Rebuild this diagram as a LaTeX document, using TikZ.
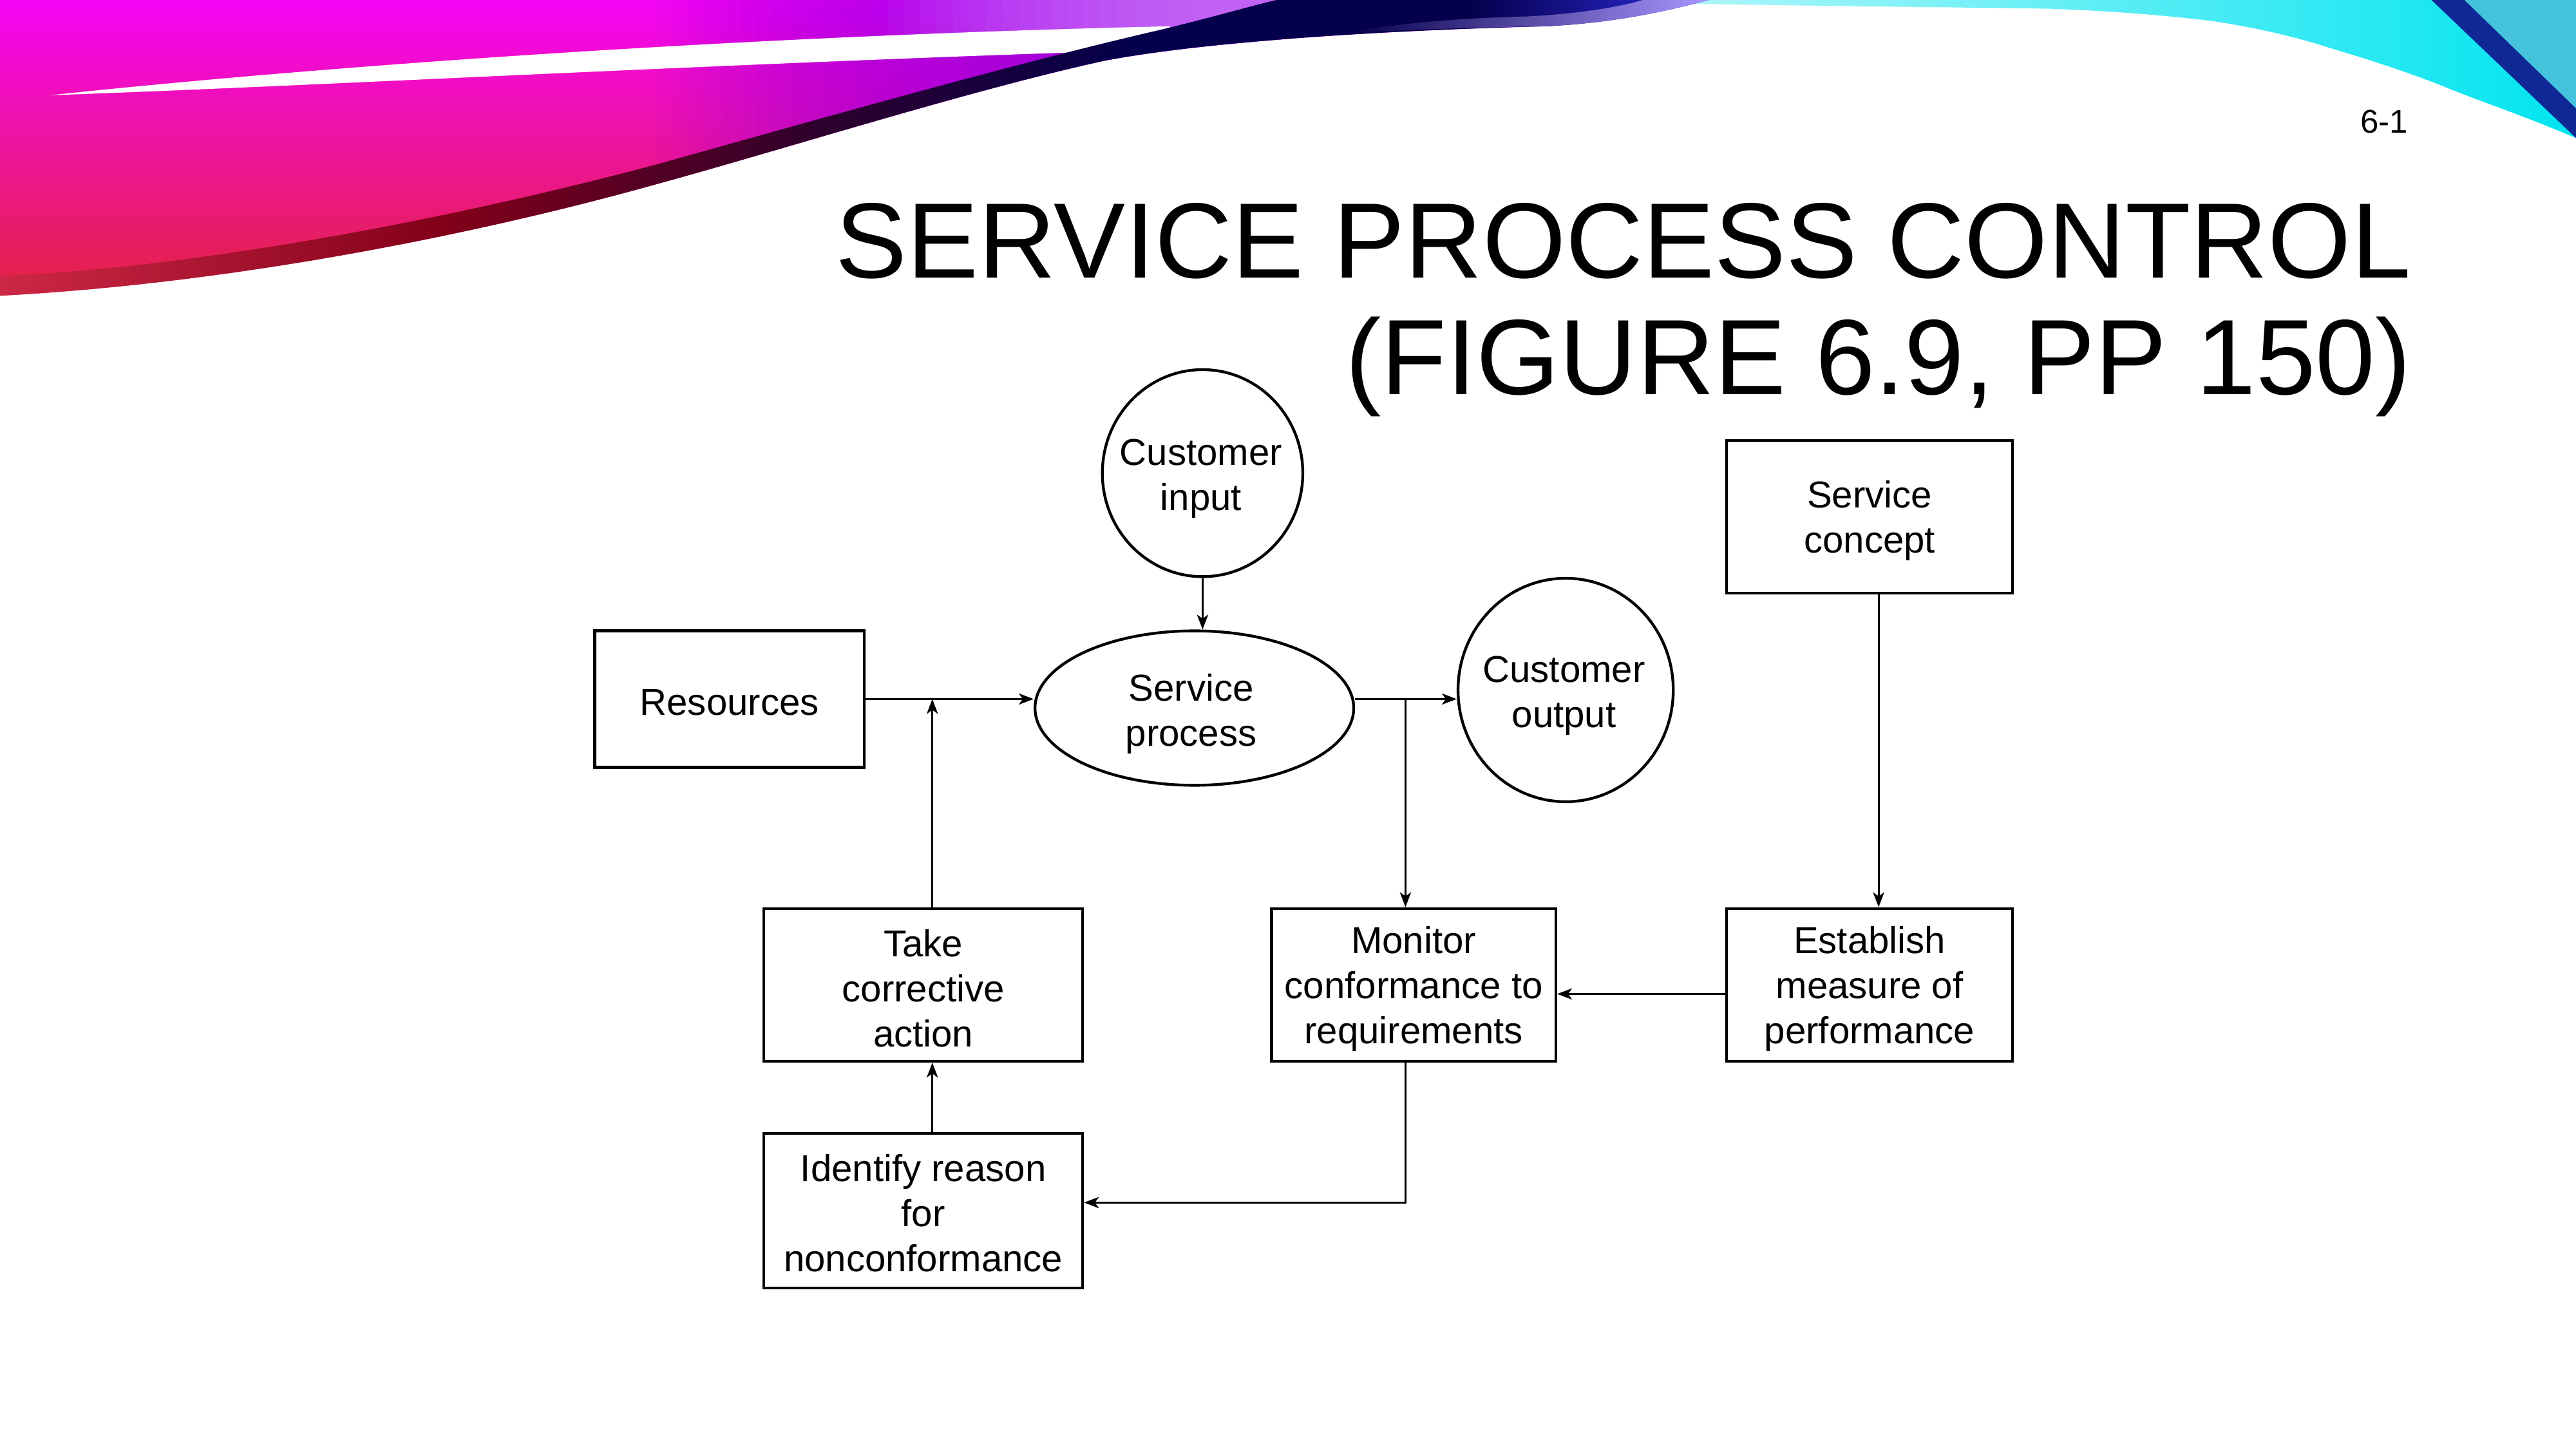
\documentclass[tikz,border=0pt]{standalone}
\usepackage{fontspec}
\setmainfont{Liberation Sans}
\usetikzlibrary{arrows.meta,shapes.geometric,calc}
\definecolor{magtop}{RGB}{245,5,245}
\definecolor{pinkmid}{RGB}{252,10,150}
\definecolor{redbot}{RGB}{228,35,65}
\definecolor{bandleft}{RGB}{205,40,70}
\definecolor{bandmid}{RGB}{130,0,25}
\definecolor{navyleft}{RGB}{45,0,45}
\definecolor{navymid}{RGB}{5,0,75}
\definecolor{navyright}{RGB}{45,45,225}
\definecolor{lightpurple}{RGB}{205,120,255}
\definecolor{lightblob}{RGB}{170,150,255}
\definecolor{deeppurple}{RGB}{150,0,235}
\definecolor{cyanlight}{RGB}{215,250,252}
\definecolor{cyanfull}{RGB}{0,228,240}
\definecolor{stripeblue}{RGB}{15,40,150}
\definecolor{tealr}{RGB}{70,195,220}
\pgfdeclarehorizontalshading{edgeband}{100bp}{color(0bp)=(bandleft); color(25bp)=(bandleft); color(38bp)=(bandmid); color(49bp)=(navyleft); color(58bp)=(navymid); color(68bp)=(navymid); color(75bp)=(navyright); color(100bp)=(navyright)}
\newcommand\dfont{\fontsize{11.4pt}{13.75pt}\selectfont}
\newcommand\tfont{\fontsize{32.6pt}{35.5pt}\selectfont}
\begin{document}
\begin{tikzpicture}[x=0.5pt,y=-0.5pt,
  box/.style={draw, line width=0.85pt, inner sep=0pt},
  oval/.style={draw, ellipse, line width=0.85pt, inner sep=0pt},
  lbl/.style={align=center, font=\dfont, inner sep=0pt},
  conn/.style={line width=0.6pt, -{Stealth[length=4.5pt,width=3.4pt,inset=1.2pt]}}]
\useasboundingbox (0,0) rectangle (1568,882);
\fill[white] (0,0) rectangle (1568,882);
% --- decorative swoosh, right (cyan) ---
\shade[left color=cyanlight, right color=cyanfull]
  (900,0) -- (1568,0) -- (1568,84) .. controls (1530,68) and (1510,62) .. (1486,52)
  .. controls (1450,38) and (1420,30) .. (1408,26)
  .. controls (1380,18) and (1360,15) .. (1348,13)
  .. controls (1300,7) and (1250,5) .. (1227,5)
  .. controls (1150,4) and (1050,3) .. (900,0) -- cycle;
\fill[tealr] (1500,0) -- (1568,0) -- (1568,66) -- cycle;
\fill[stripeblue] (1480,0) -- (1500,0) -- (1568,66) -- (1568,84) -- cycle;
% --- decorative swoosh, left (magenta) ---
\def\mainpath{(0,0) -- (1040,0) .. controls (1010,8) and (980,14) .. (941,16)
  .. controls (860,18) and (740,24) .. (672,37)
  .. controls (590,55) and (480,90) .. (400,112)
  .. controls (300,140) and (150,172) .. (0,180) -- cycle}
\shade[top color=magtop, middle color=pinkmid, bottom color=redbot] \mainpath;
\begin{scope}
  \clip \mainpath;
  \foreach \i in {0,...,29} {
    \fill[deeppurple, opacity=0.055] ({400+10*\i},0) rectangle (780,140);
  }
\end{scope}
\begin{scope}
  \clip (540,0) -- (777,0) -- (712,18) .. controls (660,19) and (600,21) .. (540,24) -- cycle;
  \foreach \i in {0,...,19} {
    \fill[lightpurple, opacity=0.09] ({540+10*\i},0) rectangle (780,30);
  }
\end{scope}
\fill[white] (30,58) .. controls (200,40) and (450,22) .. (712,16)
  -- (712,30) .. controls (450,38) and (200,52) .. (30,58) -- cycle;
% dark edge band: red - maroon - navy - blue
\shade[shading=edgeband]
  (0,180) .. controls (150,172) and (300,140) .. (400,112)
  .. controls (480,90) and (590,55) .. (672,37)
  .. controls (740,24) and (860,18) .. (941,16)
  .. controls (980,14) and (1010,8) .. (1040,0)
  -- (777,0)
  .. controls (760,4) and (740,10) .. (707,18)
  .. controls (620,38) and (500,72) .. (400,100)
  .. controls (250,140) and (100,164) .. (0,168) -- cycle;
\shade[left color=navymid, right color=lightblob]
  (820,20) .. controls (870,17.5) and (910,16.5) .. (941,16)
  .. controls (980,14) and (1010,8) .. (1040,0) -- (1000,0)
  .. controls (980,6) and (950,9) .. (930,10)
  .. controls (890,11) and (850,14) .. (820,20) -- cycle;
% --- titles ---
\node[anchor=base east, inner sep=0pt, font=\fontsize{10pt}{12pt}\selectfont] (pg) at (1466,81) {6-1};
\node[anchor=base east, inner sep=0pt, font=\tfont] (t1) at (1468,169) {SERVICE PROCESS CONTROL};
\node[anchor=base east, inner sep=0pt, font=\tfont] (t2) at (1468,240) {(FIGURE 6.9, PP 150)};
% --- diagram nodes ---
\node[oval, minimum width=61pt, minimum height=63pt] (ci) at (732,288) {};
\node[oval, minimum width=97pt, minimum height=47pt] (sp) at (727,431) {};
\node[oval, minimum width=65.5pt, minimum height=68pt] (co) at (953,420) {};
\node[box, minimum width=82pt, minimum height=41.5pt] (res) at (444,425.5) {};
\node[box, minimum width=87pt, minimum height=46.5pt] (sc) at (1138,314.5) {};
\node[box, minimum width=97pt, minimum height=46.5pt] (tca) at (562,599.5) {};
\node[box, minimum width=86.5pt, minimum height=46.5pt] (mon) at (860.5,599.5) {};
\node[box, minimum width=87pt, minimum height=46.5pt] (est) at (1138,599.5) {};
\node[box, minimum width=97pt, minimum height=47pt] (idr) at (562,737) {};
% --- labels ---
\node[lbl] (ciT) at ($(ci)+(-1,3.5)$) {Customer\\input};
\node[lbl] (spT) at ($(sp)+(-2,3.5)$) {Service\\process};
\node[lbl] (coT) at ($(co)+(-1,3.5)$) {Customer\\output};
\node[lbl] (resT) at ($(res)+(0,2)$) {Resources};
\node[lbl] (scT) at ($(sc)+(0,2.5)$) {Service\\concept};
\node[lbl] (tcaT) at ($(tca)+(0,2)$) {Take\\corrective\\action};
\node[lbl] (monT) at ($(mon)+(0,2.5)$) {Monitor\\conformance to\\requirements};
\node[lbl] (estT) at ($(est)+(0,2.5)$) {Establish\\measure of\\performance};
\node[lbl] (idrT) at ($(idr)+(0,1.5)$) {Identify reason\\for\\nonconformance};
% --- connector points ---
\coordinate (tcaN) at ($(tca.north)+(5.5,0)$);
\coordinate (tcaS) at ($(tca.south)+(5.5,0)$);
\coordinate (idrN) at ($(idr.north)+(5.5,0)$);
\coordinate (idrE) at ($(idr.east)+(0,-5)$);
\coordinate (monN) at ($(mon.north)+(-5,0)$);
\coordinate (monS) at ($(mon.south)+(-5,0)$);
\coordinate (monE) at ($(mon.east)+(0,5.5)$);
\coordinate (estW) at ($(est.west)+(0,5.5)$);
\coordinate (scS) at ($(sc.south)+(5.5,0)$);
\coordinate (estN) at ($(est.north)+(5.5,0)$);
\coordinate (spE) at (sp.east |- res.east);
\coordinate (coW) at (co.west |- res.east);
\coordinate (j1) at (tcaN |- res.east);
\coordinate (j2) at (monN |- res.east);
% --- connectors ---
\draw[conn] (ci.south) -- (ci.south |- sp.north);
\draw[conn] (res.east) -- (res.east -| sp.west);
\draw[conn] (tcaN) -- (j1);
\draw[conn] (spE) -- (coW);
\draw[conn] (j2) -- (monN);
\draw[conn] (scS) -- (estN);
\draw[conn] (estW) -- (monE);
\draw[conn] (monS) |- (idrE);
\draw[conn] (idrN) -- (tcaS);
\end{tikzpicture}
\end{document}
